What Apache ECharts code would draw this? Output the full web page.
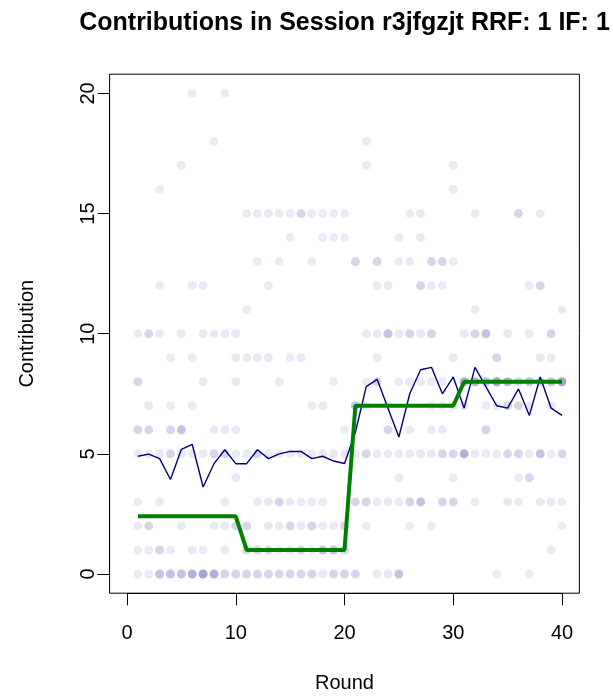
<!DOCTYPE html>
<html>
<head>
<meta charset="utf-8">
<script src="https://cdn.jsdelivr.net/npm/echarts@6/dist/echarts.min.js"></script>
<style>
  html, body { margin: 0; padding: 0; background: #ffffff; }
  #chart { width: 613px; height: 696px; }
</style>
</head>
<body>
<div id="chart"></div>
<script>
// Rounds of the session
const rounds = [1,2,3,4,5,6,7,8,9,10,11,12,13,14,15,16,17,18,19,20,
                21,22,23,24,25,26,27,28,29,30,31,32,33,34,35,36,37,38,39,40];

// Individual contributions of the ten participants, one list per round
const contributions = [
  [10,8,8,6,6,5,3,2,1,0],
  [10,10,7,6,6,5,2,2,1,0],
  [16,12,10,5,3,1,1,0,0,0],
  [9,7,6,6,5,5,1,0,0,0],
  [17,10,6,6,6,5,2,0,0,0],
  [20,12,9,7,5,1,0,0,0,0],
  [12,10,8,5,1,0,0,0,0,0],
  [18,10,6,5,5,2,0,0,0,0],
  [20,10,6,5,5,3,2,1,0,0],
  [10,9,8,6,5,4,2,2,0,0],
  [15,11,9,5,2,2,1,1,0,0],
  [15,13,9,5,5,3,1,1,0,0],
  [15,12,9,5,3,2,1,1,0,0],
  [15,13,8,5,3,3,2,1,0,0],
  [15,14,9,5,3,2,2,1,0,0],
  [15,15,9,5,3,2,1,1,0,0],
  [15,13,7,5,3,2,2,1,0,0],
  [15,14,7,5,3,2,1,1,1,0],
  [15,14,8,5,2,1,1,1,0,0],
  [15,14,6,5,2,2,1,1,0,0],
  [13,13,7,7,7,5,3,3,0,0],
  [18,17,10,8,7,5,5,3,3,2],
  [13,13,12,10,9,8,8,5,3,0],
  [12,10,10,10,7,6,6,5,3,0],
  [14,13,10,8,5,4,3,0,0,0],
  [15,13,10,10,8,6,5,3,3,2],
  [15,14,12,12,10,8,5,3,3,3],
  [13,13,12,10,10,8,7,6,5,2],
  [13,13,12,8,7,6,5,5,3,3],
  [17,16,13,9,7,5,5,4,3,3],
  [10,8,8,8,8,7,5,5,5,5],
  [15,11,10,10,8,8,8,8,5,3],
  [10,10,10,8,8,8,7,6,6,5],
  [9,9,8,8,8,8,8,7,5,0],
  [10,8,8,8,8,7,7,5,5,3],
  [15,15,8,8,7,7,5,5,4,3],
  [12,10,8,8,8,7,5,4,4,0],
  [15,12,12,9,8,8,5,5,5,3],
  [10,10,9,8,8,8,7,5,3,1],
  [11,8,8,8,8,8,5,5,3,2]
];

// Average contribution per round
const meanContribution = [
  4.90, 4.99, 4.80, 3.93, 5.19, 5.39, 3.62, 4.59, 5.17, 4.59,
  4.59, 5.17, 4.80, 5.00, 5.10, 5.10, 4.80, 4.90, 4.70, 4.60,
  5.90, 7.80, 8.10, 6.90, 5.70, 7.50, 8.50, 8.60, 7.50, 8.20,
  6.90, 8.60, 7.80, 7.00, 6.90, 7.70, 6.60, 8.20, 6.90, 6.60
];

// Block level (step line) per round
const blockLevel = [
  2.4, 2.4, 2.4, 2.4, 2.4, 2.4, 2.4, 2.4, 2.4, 2.4,
  1, 1, 1, 1, 1, 1, 1, 1, 1, 1,
  7, 7, 7, 7, 7, 7, 7, 7, 7, 7,
  8, 8, 8, 8, 8, 8, 8, 8, 8, 8
];

const xTicks = { min: 0, max: 40, step: 10 };
const yTicks = { min: 0, max: 20, step: 5 };

const FONT = 'Liberation Sans, Arial, Helvetica, sans-serif';

const pointData = [];
rounds.forEach((r, i) => contributions[i].forEach(v => pointData.push([r, v])));

const chart = echarts.init(document.getElementById('chart'), null, { renderer: 'canvas' });

// Plot frame spans the data range padded by 4% on each side
const xPad = (xTicks.max - xTicks.min) * 0.04;
const yPad = (yTicks.max - yTicks.min) * 0.04;

chart.setOption({
  animation: false,
  backgroundColor: '#ffffff',
  graphic: [{
    type: 'text',
    x: 344.5,
    y: 23,
    style: {
      text: 'Contributions in Session r3jfgzjt RRF: 1 IF: 1',
      font: 'bold 25px ' + FONT,
      fill: '#000000',
      align: 'center',
      verticalAlign: 'middle'
    }
  }],
  grid: [
    { left: 109.6, top: 74.2, width: 469.8, height: 519, show: true,
      borderColor: '#000000', borderWidth: 1, backgroundColor: 'transparent',
      outerBoundsMode: 'none' },
    { left: 127, top: 93.4, width: 435, height: 480.6, outerBoundsMode: 'none' }
  ],
  xAxis: [
    { gridIndex: 0, type: 'value', min: xTicks.min - xPad, max: xTicks.max + xPad, show: false },
    { gridIndex: 1, type: 'value', min: xTicks.min, max: xTicks.max, interval: xTicks.step,
      position: 'bottom', offset: 19.2,
      name: 'Round', nameLocation: 'middle', nameGap: 80,
      nameTextStyle: { fontFamily: FONT, fontSize: 20, color: '#000000' },
      axisLine: { show: true, onZero: false, lineStyle: { color: '#000000', width: 1 } },
      axisTick: { show: true, length: 12, lineStyle: { color: '#000000', width: 1 } },
      axisLabel: { fontFamily: FONT, fontSize: 20, color: '#000000', margin: 30 },
      splitLine: { show: false } }
  ],
  yAxis: [
    { gridIndex: 0, type: 'value', min: yTicks.min - yPad, max: yTicks.max + yPad, show: false },
    { gridIndex: 1, type: 'value', min: yTicks.min, max: yTicks.max, interval: yTicks.step,
      position: 'left', offset: 17.4,
      name: 'Contribution', nameLocation: 'middle', nameGap: 72,
      nameTextStyle: { fontFamily: FONT, fontSize: 20, color: '#000000' },
      axisLine: { show: true, onZero: false, lineStyle: { color: '#000000', width: 1 } },
      axisTick: { show: true, length: 12, lineStyle: { color: '#000000', width: 1 } },
      axisLabel: { fontFamily: FONT, fontSize: 20, color: '#000000', margin: 11, rotate: 90 },
      splitLine: { show: false } }
  ],
  series: [
    {
      type: 'scatter', xAxisIndex: 0, yAxisIndex: 0,
      data: pointData,
      symbol: 'circle', symbolSize: 9,
      itemStyle: { color: 'rgba(0,0,128,0.1)', borderWidth: 0 },
      silent: true, z: 1
    },
    {
      type: 'line', xAxisIndex: 0, yAxisIndex: 0,
      data: rounds.map((r, i) => [r, meanContribution[i]]),
      symbol: 'none',
      lineStyle: { color: '#000080', width: 1.4 },
      silent: true, z: 2
    },
    {
      type: 'line', xAxisIndex: 0, yAxisIndex: 0,
      data: rounds.map((r, i) => [r, blockLevel[i]]),
      symbol: 'none',
      lineStyle: { color: '#008000', width: 4 },
      silent: true, z: 3
    }
  ]
});
</script>
</body>
</html>
